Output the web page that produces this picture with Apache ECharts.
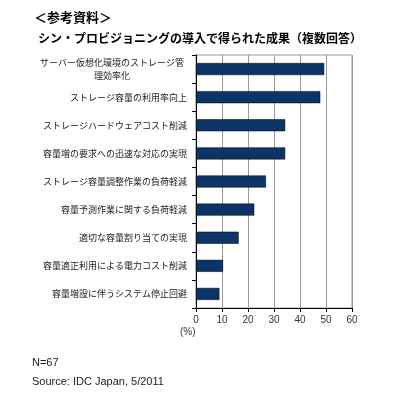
<!DOCTYPE html>
<html><head><meta charset="utf-8">
<script src="https://cdn.jsdelivr.net/npm/echarts@6/dist/echarts.min.js"></script>
<style>html,body{margin:0;padding:0;background:#fff}#c{width:400px;height:398px}</style>
</head><body><div id="c"></div>
<script>
const categories = [
  'サーバー仮想化環境のストレージ管\n理効率化',
  'ストレージ容量の利用率向上',
  'ストレージハードウェアコスト削減',
  '容量増の要求への迅速な対応の実現',
  'ストレージ容量調整作業の負荷軽減',
  '容量予測作業に関する負荷軽減',
  '適切な容量割り当ての実現',
  '容量適正利用による電力コスト削減',
  '容量増設に伴うシステム停止回避'
];
const values = [49.3, 47.8, 34.3, 34.3, 26.9, 22.4, 16.4, 10.4, 9.0];
const xTicks = [0, 10, 20, 30, 40, 50, 60];

const jp = '"Noto Sans CJK JP", sans-serif';
const chart = echarts.init(document.getElementById('c'), null, {renderer: 'canvas'});
chart.setOption({
  animation: false,
  backgroundColor: '#fff',
  title: [
    {text: '＜参考資料＞', left: 29, top: 6, textStyle: {fontFamily: jp, fontSize: 13, fontWeight: 'bold', color: '#000'}},
    {text: 'シン・プロビジョニングの導入で得られた成果（複数回答）', left: 'center', top: 27, textStyle: {fontFamily: jp, fontSize: 12, fontWeight: 'bold', color: '#000'}}
  ],
  grid: {left: 196, right: 48, top: 55, bottom: 90, show: true, borderColor: '#999', borderWidth: 1, containLabel: false},
  xAxis: {
    type: 'value', min: 0, max: 60, interval: 10,
    axisLine: {show: true, lineStyle: {color: '#000', width: 1}},
    axisTick: {show: true, length: 4, lineStyle: {color: '#000'}},
    axisLabel: {fontFamily: 'Liberation Sans, Arial, sans-serif', fontSize: 10, color: '#333', margin: 7,
      formatter: v => xTicks.includes(v) ? String(v) : ''},
    splitLine: {show: true, lineStyle: {color: '#999', width: 1}}
  },
  yAxis: {
    type: 'category', inverse: true,
    data: categories.map((c, i) => i === 0 ? {value: c, textStyle: {align: 'center', padding: [0, 150, 0, 0]}} : c),
    axisLine: {show: true, lineStyle: {color: '#000', width: 1}},
    axisTick: {show: true, length: 4, inside: false, lineStyle: {color: '#000'}},
    axisLabel: {fontFamily: jp, fontSize: 9, color: '#222', margin: 9, lineHeight: 13, align: 'right'},
    splitLine: {show: false}
  },
  series: [{
    type: 'bar', data: values, barWidth: 12,
    itemStyle: {color: '#0c3466', borderColor: '#000', borderWidth: 0.5}
  }],
  graphic: [
    {type: 'text', left: 180, top: 327, style: {text: '(%)', fontFamily: 'Liberation Sans, Arial, sans-serif', fontSize: 10, fill: '#333'}},
    {type: 'text', left: 32, top: 357, style: {text: 'N=67', fontFamily: 'Liberation Sans, Arial, sans-serif', fontSize: 11, fill: '#222'}},
    {type: 'text', left: 32, top: 376, style: {text: 'Source: IDC Japan, 5/2011', fontFamily: 'Liberation Sans, Arial, sans-serif', fontSize: 11, fill: '#222'}}
  ]
});
</script></body></html>
